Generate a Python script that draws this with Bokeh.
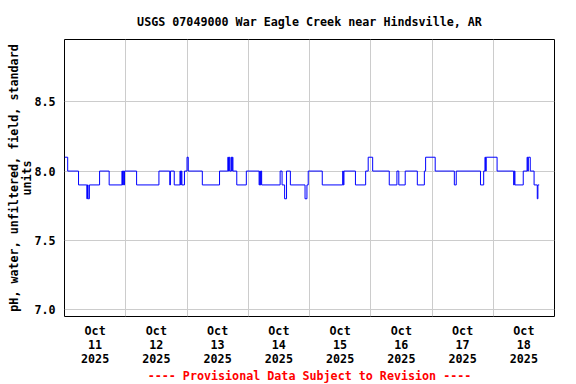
import pandas as pd
from bokeh.plotting import figure
from bokeh.models import FixedTicker, Range1d, ColumnDataSource, Title
from bokeh.embed import file_html
from bokeh.resources import INLINE

# ---------------- data ----------------
title_text = "USGS 07049000 War Eagle Creek near Hindsville, AR"
y_label_1 = "pH, water, unfiltered, field, standard"
y_label_2 = "units"
footer_text = "---- Provisional Data Subject to Revision ----"

times = [
    "2025-10-11 00:00", "2025-10-11 01:15", "2025-10-11 05:30", "2025-10-11 08:45",
    "2025-10-11 09:00", "2025-10-11 09:15", "2025-10-11 09:45", "2025-10-11 13:45",
    "2025-10-11 17:30", "2025-10-11 22:30", "2025-10-11 22:45", "2025-10-11 23:00",
    "2025-10-11 23:15", "2025-10-11 23:30",
    "2025-10-12 04:15", "2025-10-12 13:00", "2025-10-12 17:15", "2025-10-12 17:30",
    "2025-10-12 19:00", "2025-10-12 21:15", "2025-10-12 21:30", "2025-10-12 21:45",
    "2025-10-12 22:00", "2025-10-12 23:00",
    "2025-10-13 00:00", "2025-10-13 00:30", "2025-10-13 06:00", "2025-10-13 12:45",
    "2025-10-13 16:00", "2025-10-13 16:15", "2025-10-13 16:30", "2025-10-13 16:45",
    "2025-10-13 17:15", "2025-10-13 17:30", "2025-10-13 17:45", "2025-10-13 18:00",
    "2025-10-13 19:30", "2025-10-13 23:15",
    "2025-10-14 04:15", "2025-10-14 04:30", "2025-10-14 04:45", "2025-10-14 05:00",
    "2025-10-14 05:15", "2025-10-14 12:30", "2025-10-14 13:15", "2025-10-14 14:15",
    "2025-10-14 15:00", "2025-10-14 16:30", "2025-10-14 22:15", "2025-10-14 23:00",
    "2025-10-14 23:30",
    "2025-10-15 05:00", "2025-10-15 13:00", "2025-10-15 13:15", "2025-10-15 13:30",
    "2025-10-15 18:00", "2025-10-15 22:00", "2025-10-15 23:00",
    "2025-10-16 00:45", "2025-10-16 07:15", "2025-10-16 10:15", "2025-10-16 11:00",
    "2025-10-16 13:30", "2025-10-16 18:15", "2025-10-16 21:00", "2025-10-16 21:30",
    "2025-10-17 01:15", "2025-10-17 08:45", "2025-10-17 09:30", "2025-10-17 19:00",
    "2025-10-17 20:15", "2025-10-17 20:45", "2025-10-17 21:00", "2025-10-17 21:15",
    "2025-10-18 01:30", "2025-10-18 08:00", "2025-10-18 08:15", "2025-10-18 08:30",
    "2025-10-18 11:45", "2025-10-18 13:15", "2025-10-18 13:30", "2025-10-18 13:45",
    "2025-10-18 14:30", "2025-10-18 16:00", "2025-10-18 17:15", "2025-10-18 17:30",
    "2025-10-18 18:00",
]
ph = [
    8.1, 8.0, 7.9, 7.8, 7.9, 7.8, 7.9, 8.0, 7.9, 8.0, 7.9, 8.0, 7.9, 8.0,
    7.9, 8.0, 7.9, 8.0, 7.9, 8.0, 7.9, 8.0, 7.9, 8.0,
    8.1, 8.0, 7.9, 8.0, 8.1, 8.0, 8.1, 8.0, 8.1, 8.0, 8.1, 8.0, 7.9, 8.0,
    7.9, 8.0, 7.9, 8.0, 7.9, 8.0, 7.9, 7.8, 8.0, 7.9, 7.8, 7.9, 8.0,
    7.9, 8.0, 7.9, 8.0, 7.9, 8.0, 8.1,
    8.0, 7.9, 8.0, 7.9, 8.0, 7.9, 8.0, 8.1,
    8.0, 7.9, 8.0, 7.9, 8.0, 8.1, 8.0, 8.1,
    8.0, 7.9, 8.0, 7.9, 8.0, 8.1, 8.0, 8.1, 8.0, 7.9, 7.8, 7.9, 7.9,
]

x_start = "2025-10-11 00:00"
x_end = "2025-10-19 00:00"
y_min, y_max = 6.95, 8.95
tick_days = ["2025-10-11", "2025-10-12", "2025-10-13", "2025-10-14",
             "2025-10-15", "2025-10-16", "2025-10-17", "2025-10-18"]
tick_labels = ["Oct\n11\n2025", "Oct\n12\n2025", "Oct\n13\n2025", "Oct\n14\n2025",
               "Oct\n15\n2025", "Oct\n16\n2025", "Oct\n17\n2025", "Oct\n18\n2025"]
grid_days = ["2025-10-12", "2025-10-13", "2025-10-14", "2025-10-15",
             "2025-10-16", "2025-10-17", "2025-10-18"]
y_ticks = [7.0, 7.5, 8.0, 8.5]

# ---------------- helpers ----------------
def ms(s):
    return pd.Timestamp(s).value / 1e6

x0, x1 = ms(x_start), ms(x_end)
FONT = "DejaVu Sans Mono"
FSIZE = "11.7px"

source = ColumnDataSource(dict(t=[ms(s) for s in times], v=ph))

p = figure(width=576, height=384, output_backend="svg", toolbar_location=None,
           x_range=Range1d(x0, x1), y_range=Range1d(y_min, y_max),
           min_border_left=64, min_border_right=22, min_border_top=39,
           min_border_bottom=68)
p.background_fill_color = "white"
p.border_fill_color = "white"
p.outline_line_color = "black"
p.outline_line_width = 1

p.step("t", "v", source=source, mode="after", line_color="#0000FF", line_width=1)

# title
p.title.text = title_text
p.title.align = "center"
p.title.text_font = FONT
p.title.text_font_style = "bold"
p.title.text_font_size = FSIZE
p.title.text_color = "black"
p.title.standoff = 21

# footer
p.add_layout(Title(text=footer_text, align="center", text_font=FONT,
                   text_font_style="bold", text_font_size=FSIZE,
                   text_color="#FF0000", standoff=-3), "below")

# x axis
label_ticks = [ms(d) + 12 * 3600 * 1000 for d in tick_days]
p.xaxis.ticker = FixedTicker(ticks=label_ticks)
p.xaxis.major_label_overrides = {t: l for t, l in zip(label_ticks, tick_labels)}
p.xgrid.ticker = FixedTicker(ticks=[ms(d) for d in grid_days])
p.ygrid.ticker = FixedTicker(ticks=y_ticks)
p.yaxis.ticker = FixedTicker(ticks=y_ticks)
p.yaxis.major_label_overrides = {t: f"{t:.1f}" for t in y_ticks}

for ax in (p.xaxis[0], p.yaxis[0]):
    ax.axis_line_color = None
    ax.major_tick_line_color = None
    ax.minor_tick_line_color = None
    ax.major_tick_in = 0
    ax.major_tick_out = 0
    ax.major_label_text_font = FONT
    ax.major_label_text_font_style = "bold"
    ax.major_label_text_font_size = FSIZE
    ax.major_label_text_color = "black"
p.xaxis.major_label_standoff = 7
p.xaxis.major_label_text_line_height = 1.0
p.yaxis.major_label_standoff = 9

p.yaxis.axis_label = y_label_1 + "\n" + y_label_2
p.yaxis.axis_label_text_font = FONT
p.yaxis.axis_label_text_font_style = "bold"
p.yaxis.axis_label_text_font_size = FSIZE
p.yaxis.axis_label_text_color = "black"
p.yaxis.axis_label_text_line_height = 0.92
p.yaxis.axis_label_standoff = -3

for g in (p.xgrid[0], p.ygrid[0]):
    g.grid_line_color = "#CCCCCC"
    g.grid_line_width = 1

open("out.html", "w").write(file_html(p, INLINE))
